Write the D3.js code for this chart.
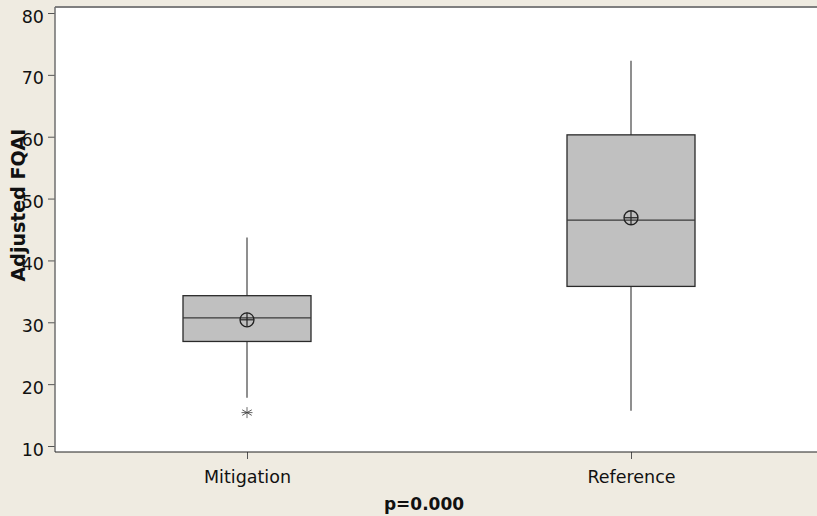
<!DOCTYPE html>
<html>
<head>
<meta charset="utf-8">
<script src="https://cdn.jsdelivr.net/npm/d3@7"></script>
<style>
  html, body { margin: 0; padding: 0; background: #EFEBE1; }
  svg { display: block; }
  text { font-family: "DejaVu Sans", Verdana, sans-serif; }
</style>
</head>
<body>
<svg id="chart" width="817" height="516"></svg>
<script>
// Adjusted FQAI by site type
const categories  = ["Mitigation", "Reference"];
const whiskerLow  = [17.8, 15.7];
const q1          = [26.9, 35.8];
const medians     = [30.7, 46.5];
const q3          = [34.3, 60.3];
const whiskerHigh = [43.7, 72.3];
const means       = [30.4, 46.9];
const outliers    = [{ category: "Mitigation", value: 15.4 }];
const yTicks      = [10, 20, 30, 40, 50, 60, 70, 80];
const yTitle      = "Adjusted FQAI";
const footnote    = "p=0.000";

const boxes = categories.map((c, i) => ({
  category: c, lo: whiskerLow[i], q1: q1[i], med: medians[i],
  q3: q3[i], hi: whiskerHigh[i], mean: means[i]
}));

const W = 817, H = 516;
const frame = { left: 55, top: 7, right: 823, bottom: 452 };

const svg = d3.select("#chart");

const x = d3.scalePoint()
  .domain(categories)
  .range([frame.left, frame.right])
  .padding(0.5);

const y = d3.scaleLinear()
  .domain([10, 80])
  .range([446, 13]);

const boxW = x.step() / 3;

// plot area
svg.append("rect")
  .attr("x", frame.left).attr("y", frame.top)
  .attr("width", frame.right - frame.left)
  .attr("height", frame.bottom - frame.top)
  .attr("fill", "#ffffff");

// top frame edge
svg.append("line")
  .attr("x1", frame.left).attr("x2", W)
  .attr("y1", frame.top).attr("y2", frame.top)
  .attr("stroke", "#7f7f7f").attr("stroke-width", 2);

// y axis
const yAxis = svg.append("g")
  .attr("transform", `translate(${frame.left},0)`)
  .call(d3.axisLeft(y).tickValues(yTicks).tickSize(7).tickPadding(4).tickSizeOuter(0));
yAxis.select(".domain").remove();
yAxis.append("line")
  .attr("x1", 0).attr("x2", 0)
  .attr("y1", frame.top).attr("y2", frame.bottom)
  .attr("stroke", "#6f6f6f").attr("stroke-width", 1.5);
yAxis.selectAll(".tick line").attr("stroke", "#555");
yAxis.selectAll(".tick text")
  .attr("font-size", 17.5)
  .attr("fill", "#111")
  .attr("dy", "0.52em")
  .style("font-family", "'DejaVu Sans', Verdana, sans-serif");

// x axis
const xAxis = svg.append("g")
  .attr("transform", `translate(0,${frame.bottom})`)
  .call(d3.axisBottom(x).tickSize(7).tickPadding(12).tickSizeOuter(0));
xAxis.select(".domain").remove();
xAxis.append("line")
  .attr("x1", frame.left).attr("x2", W)
  .attr("y1", 0).attr("y2", 0)
  .attr("stroke", "#222").attr("stroke-width", 1.2);
xAxis.selectAll(".tick line").attr("stroke", "#555");
xAxis.selectAll(".tick text")
  .attr("font-size", 17.5)
  .attr("fill", "#111")
  .style("font-family", "'DejaVu Sans', Verdana, sans-serif");

// whiskers
const g = svg.append("g");
g.selectAll("line.whisker")
  .data(boxes)
  .join("line")
  .attr("class", "whisker")
  .attr("x1", d => x(d.category)).attr("x2", d => x(d.category))
  .attr("y1", d => y(d.lo)).attr("y2", d => y(d.hi))
  .attr("stroke", "#6a6a6a").attr("stroke-width", 1.5);

// boxes
g.selectAll("rect.box")
  .data(boxes)
  .join("rect")
  .attr("class", "box")
  .attr("x", d => x(d.category) - boxW / 2)
  .attr("width", boxW)
  .attr("y", d => y(d.q3))
  .attr("height", d => y(d.q1) - y(d.q3))
  .attr("fill", "#C0C0C0")
  .attr("stroke", "#2a2a2a").attr("stroke-width", 1.3);

// medians
g.selectAll("line.median")
  .data(boxes)
  .join("line")
  .attr("class", "median")
  .attr("x1", d => x(d.category) - boxW / 2)
  .attr("x2", d => x(d.category) + boxW / 2)
  .attr("y1", d => y(d.med)).attr("y2", d => y(d.med))
  .attr("stroke", "#3a3a3a").attr("stroke-width", 1.3);

// mean symbols: circle with cross
const r = 7;
const meanG = g.selectAll("g.mean")
  .data(boxes)
  .join("g")
  .attr("class", "mean")
  .attr("transform", d => `translate(${x(d.category)},${y(d.mean)})`);
meanG.append("circle")
  .attr("r", r).attr("fill", "none")
  .attr("stroke", "#222").attr("stroke-width", 1.3);
meanG.append("line")
  .attr("x1", -r).attr("x2", r).attr("y1", 0).attr("y2", 0)
  .attr("stroke", "#222").attr("stroke-width", 1.2);
meanG.append("line")
  .attr("x1", 0).attr("x2", 0).attr("y1", -r).attr("y2", r)
  .attr("stroke", "#222").attr("stroke-width", 1.2);

// outliers: asterisks
const a = 5.5;
const star = g.selectAll("g.outlier")
  .data(outliers)
  .join("g")
  .attr("class", "outlier")
  .attr("transform", d => `translate(${x(d.category)},${y(d.value)})`);
[0, 60, 120].forEach(angle => {
  star.append("line")
    .attr("x1", 0).attr("x2", 0).attr("y1", -a).attr("y2", a)
    .attr("transform", `rotate(${angle})`)
    .attr("stroke", "#444").attr("stroke-width", 0.8);
});
star.append("line")
  .attr("x1", -a).attr("x2", a).attr("y1", 0).attr("y2", 0)
  .attr("stroke", "#444").attr("stroke-width", 0.8);

// y title
svg.append("text")
  .attr("transform", "translate(25,205) rotate(-90)")
  .attr("text-anchor", "middle")
  .attr("font-size", 19)
  .attr("font-weight", "bold")
  .attr("fill", "#111")
  .text(yTitle);

// footnote
svg.append("text")
  .attr("x", 424).attr("y", 510)
  .attr("text-anchor", "middle")
  .attr("font-size", 17)
  .attr("font-weight", "bold")
  .attr("fill", "#111")
  .text(footnote);
</script>
</body>
</html>
